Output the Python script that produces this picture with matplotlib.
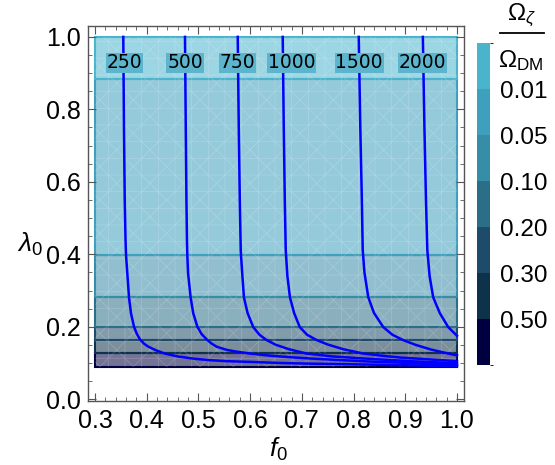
import matplotlib.pyplot as plt
import matplotlib as mpl
from matplotlib.patches import Rectangle
from matplotlib.colors import ListedColormap, BoundaryNorm, to_rgba
from matplotlib.lines import Line2D
from matplotlib.ticker import MultipleLocator

plt.rcParams['font.family'] = ['Liberation Sans', 'DejaVu Sans']
plt.rcParams['mathtext.fontset'] = 'custom'
plt.rcParams['mathtext.rm'] = 'Liberation Sans'
plt.rcParams['mathtext.it'] = 'Liberation Sans:italic'
plt.rcParams['hatch.linewidth'] = 0.6

# lambda_0 edges of the shaded bands (bottom to top) and their colours
band_edges = [0.088, 0.127, 0.163, 0.199, 0.281, 0.397, 0.883, 1.0]
band_colors = ['#000040', '#0f324b', '#1e4b69', '#2a6e87', '#378ca8', '#3ea0bc', '#4bb4cd']
cbar_labels = ['0.01', '0.05', '0.10', '0.20', '0.30', '0.50']  # top to bottom
f_lo, f_hi = 0.3, 1.0

# contour lines
levels = ['250', '500', '750', '1000', '1500', '2000']
f_250 = [0.3547, 0.356, 0.3575, 0.359, 0.360, 0.3625, 0.3658, 0.3696, 0.3754, 0.381, 0.387, 0.395,
         0.403, 0.418, 0.435, 0.46, 0.490, 0.52, 0.555, 0.60, 0.658, 0.72, 0.774, 0.89, 1.0]
l_250 = [1.0, 0.75, 0.55, 0.44, 0.397, 0.347, 0.280, 0.237, 0.200, 0.180, 0.165, 0.153,
         0.145, 0.135, 0.126, 0.118, 0.112, 0.108, 0.105, 0.103, 0.100, 0.098, 0.097, 0.094, 0.091]
f_500 = [0.474, 0.4755, 0.4768, 0.4778, 0.4785, 0.480, 0.485, 0.490, 0.498, 0.506, 0.516, 0.525,
         0.535, 0.555, 0.575, 0.600, 0.64, 0.677, 0.72, 0.774, 0.83, 0.89, 0.95, 1.0]
l_500 = [1.0, 0.75, 0.55, 0.44, 0.397, 0.347, 0.280, 0.237, 0.200, 0.180, 0.165, 0.154,
         0.145, 0.136, 0.131, 0.126, 0.120, 0.116, 0.112, 0.108, 0.104, 0.101, 0.097, 0.094]
f_750 = [0.576, 0.578, 0.580, 0.5818, 0.5824, 0.585, 0.588, 0.595, 0.606, 0.618, 0.632, 0.65,
         0.675, 0.709, 0.76, 0.8125, 0.86, 0.909, 0.955, 1.0]
l_750 = [1.0, 0.75, 0.55, 0.412, 0.396, 0.34, 0.281, 0.238, 0.199, 0.178, 0.163, 0.150,
         0.138, 0.126, 0.118, 0.113, 0.109, 0.105, 0.102, 0.099]
f_1000 = [0.663, 0.665, 0.667, 0.6688, 0.672, 0.677, 0.685, 0.696, 0.71, 0.729, 0.75, 0.78,
          0.819, 0.855, 0.890, 0.945, 1.0]
l_1000 = [1.0, 0.75, 0.55, 0.412, 0.34, 0.281, 0.238, 0.199, 0.178, 0.163, 0.151, 0.138,
          0.126, 0.120, 0.115, 0.110, 0.105]
f_1500 = [0.810, 0.813, 0.816, 0.8177, 0.821, 0.8285, 0.8395, 0.8575, 0.875, 0.896, 0.92, 0.95,
          0.977, 1.0]
l_1500 = [1.0, 0.75, 0.55, 0.412, 0.35, 0.281, 0.238, 0.199, 0.178, 0.163, 0.150, 0.137,
          0.128, 0.121]
f_2000 = [0.934, 0.937, 0.940, 0.9426, 0.947, 0.954, 0.967, 0.983, 1.0]
l_2000 = [1.0, 0.75, 0.55, 0.412, 0.34, 0.281, 0.237, 0.199, 0.175]
curves = [(f_250, l_250), (f_500, l_500), (f_750, l_750),
          (f_1000, l_1000), (f_1500, l_1500), (f_2000, l_2000)]
label_f = [0.357, 0.474, 0.576, 0.680, 0.8105, 0.934]
label_l = 0.928

fig = plt.figure(figsize=(5.55, 4.65), dpi=100)
ax = fig.add_axes([0.1586, 0.1376, 0.836 - 0.1586, 0.944 - 0.1376])

for i, c in enumerate(band_colors):
    ax.add_patch(Rectangle((f_lo, band_edges[i]), f_hi - f_lo, band_edges[i + 1] - band_edges[i],
                           facecolor=to_rgba(c, 0.55), edgecolor=c, lw=1.5, zorder=1))
# faint white mesh over the shaded region
ax.add_patch(Rectangle((f_lo, band_edges[0]), f_hi - f_lo, band_edges[-1] - band_edges[0],
                       fill=False, hatch='x+', edgecolor=(1, 1, 1, 0.18), lw=0, zorder=2))

for (fx, lx), lab, xl in zip(curves, levels, label_f):
    ax.plot(fx, lx, color='#0000ff', lw=1.8, zorder=3)
    ax.text(xl, label_l, lab, ha='center', va='center', fontsize=13.5, family='DejaVu Sans',
            zorder=4, bbox=dict(facecolor='#5cb5cc', edgecolor='none', pad=0.5))

ax.set_xlim(0.2865, 1.0135)
ax.set_ylim(-0.005, 1.03)
ax.xaxis.set_minor_locator(MultipleLocator(0.02))
ax.yaxis.set_minor_locator(MultipleLocator(0.05))
ax.set_xticks([0.3, 0.4, 0.5, 0.6, 0.7, 0.8, 0.9, 1.0])
ax.set_xticklabels(['0.3', '0.4', '0.5', '0.6', '0.7', '0.8', '0.9', '1.0'])
ax.set_yticks([0.0, 0.2, 0.4, 0.6, 0.8, 1.0])
ax.set_yticklabels(['0.0', '0.2', '0.4', '0.6', '0.8', '1.0'])
ax.tick_params(which='both', direction='in', top=True, right=True, color='#555555', labelsize=18)
ax.tick_params(which='major', length=6, width=0.8)
ax.tick_params(which='minor', length=3, width=0.6)
ax.tick_params(axis='x', pad=6)
ax.tick_params(axis='y', pad=5)
for s in ax.spines.values():
    s.set_color('#555555')
    s.set_linewidth(1.0)

fig.text(30 / 555, 1 - 244 / 465, r'$\lambda_0$', fontsize=19, ha='center', va='center')
fig.text(278 / 555, 1 - 449 / 465, r'$f_0$', fontsize=19, ha='center', va='center')

# colour bar
cax = fig.add_axes([477 / 555, 1 - 365 / 465, 13 / 555, 322 / 465])
cmap = ListedColormap(band_colors)
norm = BoundaryNorm(list(range(8)), cmap.N)
cb = fig.colorbar(mpl.cm.ScalarMappable(norm=norm, cmap=cmap), cax=cax, ticks=[1, 2, 3, 4, 5, 6])
cb.set_ticklabels(cbar_labels[::-1])
cb.outline.set_visible(False)
cax.tick_params(length=0, labelsize=17.5, pad=7)

fig.text(521 / 555, 1 - 16 / 465, r'$\Omega_\zeta$', fontsize=17.5, ha='center', va='center')
fig.add_artist(Line2D([500 / 555, 544 / 555], [1 - 33 / 465, 1 - 33 / 465], color='black', lw=1.3))
fig.text(521 / 555, 1 - 61 / 465, r'$\Omega_{\mathrm{DM}}$', fontsize=17.5, ha='center', va='center')

fig.savefig('out.png', dpi=100)
